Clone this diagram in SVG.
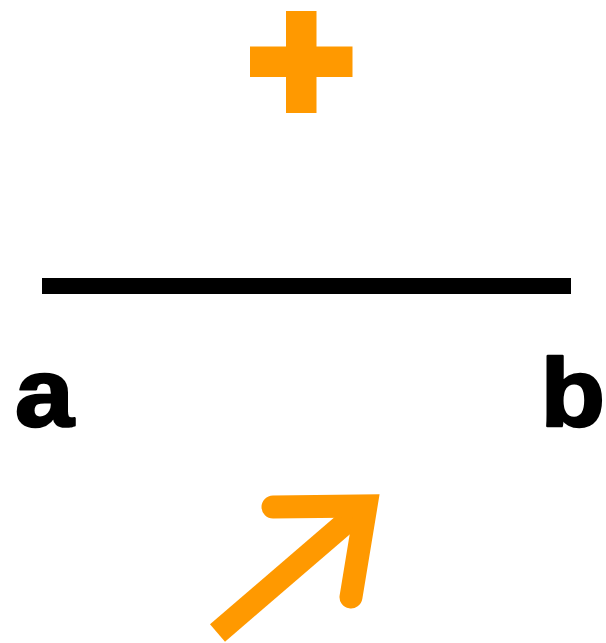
<svg xmlns="http://www.w3.org/2000/svg" width="606" height="643" viewBox="0 0 606 643">
<style>
.lbl{font-family:"Liberation Sans",Arial,sans-serif;font-weight:bold;font-size:96px;fill:#000;stroke:#000;stroke-width:2.5;stroke-linejoin:round}
.or{fill:#FF9900}
.arr{fill:none;stroke:#FF9900;stroke-width:23}
</style>
<rect width="606" height="643" fill="#fff"/>
<g id="plus">
<rect class="or" x="286" y="11" width="30.5" height="102"/>
<rect class="or" x="250" y="46.5" width="102.5" height="30.5"/>
</g>
<g id="line">
<rect x="42" y="278" width="529" height="16" fill="#000"/>
</g>
<g id="label-a"><text class="lbl" transform="translate(15,426) scale(1.1,1)" x="0" y="0">a</text></g>
<g id="label-b"><text class="lbl" transform="translate(540.5,426) scale(1.1,1)" x="0" y="0">b</text></g>
<g id="connectors">
<line class="arr" x1="217.5" y1="633" x2="364" y2="507" stroke-linecap="butt"/>
<polyline class="arr" points="273,507 366,506 351,597" stroke-linecap="round" stroke-linejoin="miter" stroke-miterlimit="10"/>
</g>
</svg>
